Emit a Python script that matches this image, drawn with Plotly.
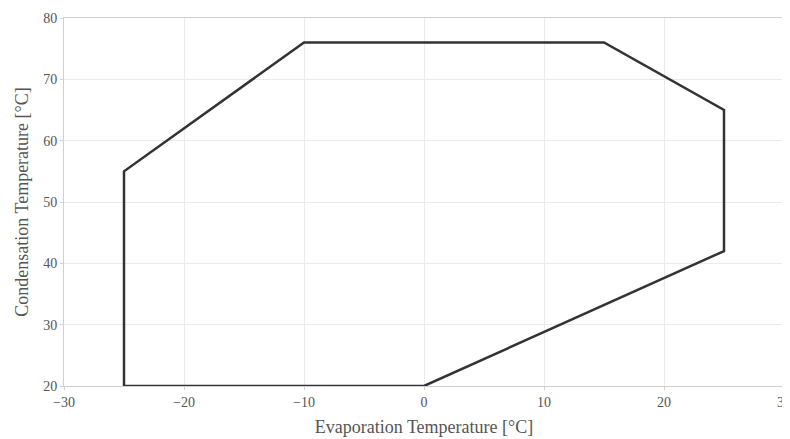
import plotly.graph_objects as go

evap_temp = [-25, -25, -10, 15, 25, 25, 0, -25]
cond_temp = [20, 55, 76, 76, 65, 42, 20, 20]
x_ticks = [-30, -20, -10, 0, 10, 20, 30]
y_ticks = [20, 30, 40, 50, 60, 70, 80]

fig = go.Figure()
fig.add_trace(go.Scatter(x=evap_temp, y=cond_temp, mode="lines",
                         line=dict(color="#333333", width=2.5), showlegend=False))

font_family = "Liberation Serif, DejaVu Serif, serif"
axis_common = dict(showgrid=True, gridcolor="#ebebeb", gridwidth=1,
                   showline=True, linecolor="#d0d0d0", linewidth=1, mirror=True,
                   zeroline=False, ticks="outside", ticklen=3, tickcolor="#d0d0d0",
                   automargin=False,
                   tickfont=dict(family=font_family, size=14, color="#555555"))
fig.update_xaxes(range=[-30, 30], tickvals=x_ticks,
                 title=dict(text="Evaporation Temperature [°C]", standoff=11,
                            font=dict(family=font_family, size=18, color="#555555")),
                 **axis_common)
fig.update_yaxes(range=[20, 80], tickvals=y_ticks,
                 title=dict(text="Condensation Temperature [°C]", standoff=9,
                            font=dict(family=font_family, size=18, color="#555555")),
                 **axis_common)
fig.update_layout(width=790, height=439, margin=dict(l=56, r=14, t=10, b=61),
                  plot_bgcolor="white", paper_bgcolor="white")
fig.write_html("out.html")
